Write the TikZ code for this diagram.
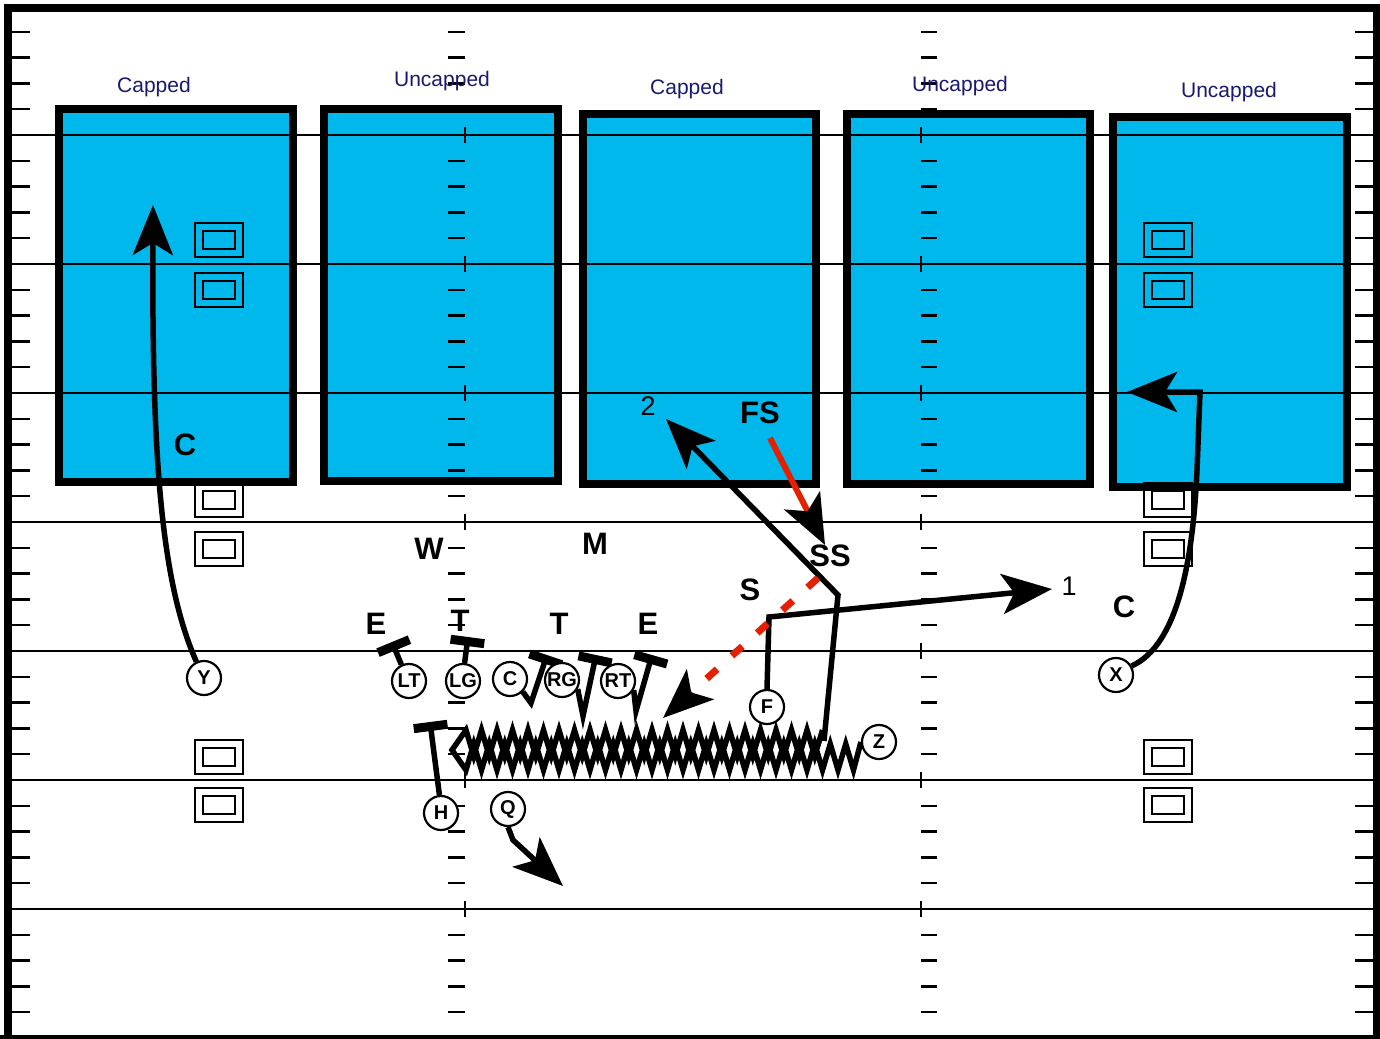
\documentclass[tikz,border=0pt]{standalone}
\usepackage{fontspec}
\setmainfont{Liberation Sans}
\usetikzlibrary{arrows.meta}
\definecolor{zoneblue}{RGB}{0,184,236}
\definecolor{capnavy}{RGB}{25,25,112}
\definecolor{rushred}{RGB}{228,32,0}
\pgfdeclarelayer{field}
\pgfdeclarelayer{routes}
\pgfsetlayers{field,routes,main}
\begin{document}
\begin{tikzpicture}[x=1pt,y=-1pt,
  zone/.style={draw=black,line width=8pt,fill=zoneblue},
  zonelabel/.style={text=capnavy,font=\fontsize{21}{21}\selectfont,anchor=base,inner sep=0pt},
  yard/.style={line width=2pt},
  hashtick/.style={line width=2.5pt},
  player/.style={circle,draw=black,line width=2.2pt,fill=white,minimum size=34pt,inner sep=0pt,font=\bfseries\fontsize{20}{20}\selectfont},
  defender/.style={font=\bfseries\fontsize{31}{31}\selectfont,inner sep=0pt},
  numlabel/.style={font=\fontsize{27}{27}\selectfont,inner sep=0pt},
  route/.style={line width=5.5pt},
  arrowend/.style={-{Stealth[length=50pt,width=40pt,inset=12pt]}},
  blackend/.style={-{Stealth[length=50pt,width=40pt,inset=12pt,color=black]}},
  blockline/.style={line width=5.5pt,-{Bar[width=34pt,line width=9pt]}},
  motion/.style={line width=5.5pt,line join=miter,miter limit=10},
  yardmarker/.pic={\draw[line width=2pt] (-24,-17) rectangle (24,17);
                   \draw[line width=2pt] (-16,-9) rectangle (16,9);},
]
\useasboundingbox (0,0) rectangle (1380,1038);

\begin{pgfonlayer}{field}
\fill[white] (0,0) rectangle (1380,1038);
% zones
\draw[zone] (59,109) rectangle (293,482);
\draw[zone] (324,109) rectangle (558,481);
\draw[zone] (583,114) rectangle (816,484);
\draw[zone] (847,114) rectangle (1090,484);
\draw[zone] (1113,117) rectangle (1347,487);
% yard markers
\foreach \yy in {240,290,500,549,757,805}{
  \pic at (219,\yy) {yardmarker};
  \pic at (1168,\yy) {yardmarker};
}
% yard lines and hash marks
\foreach \yy in {135,264,393,522,651,780,909}{
  \draw[yard] (12,\yy) -- (1373,\yy);
  \draw[hashtick] (465,\yy-8) -- (465,\yy+8);
  \draw[hashtick] (921,\yy-8) -- (921,\yy+8);
}
\foreach \k in {0,...,7}{
  \foreach \j in {1,...,4}{
    \pgfmathsetmacro\yy{6+129*\k+25.8*\j}
    \draw[hashtick] (12,\yy) -- (30,\yy);
    \draw[hashtick] (1355,\yy) -- (1373,\yy);
    \draw[hashtick] (448,\yy) -- (465,\yy);
    \draw[hashtick] (921,\yy) -- (937,\yy);
  }
}
% border
\draw[line width=8pt] (8,1040) -- (8,8) -- (1376.5,8) -- (1376.5,1040);
\draw[line width=6pt] (0,1038) -- (1380,1038);
\end{pgfonlayer}

% zone labels
\node[zonelabel] (l1) at (154,93) {Capped};
\node[zonelabel] (l2) at (442,87) {Uncapped};
\node[zonelabel] (l3) at (687,95) {Capped};
\node[zonelabel] (l4) at (960,92) {Uncapped};
\node[zonelabel] (l5) at (1229,98) {Uncapped};

% players
\node[player] (Y) at (204,678) {Y};
\node[player] (LT) at (409,681) {LT};
\node[player] (LG) at (463,681) {LG};
\node[player] (C) at (510,679) {C};
\node[player] (RG) at (562,680) {RG};
\node[player] (RT) at (618,681) {RT};
\node[player] (F) at (767,707) {F};
\node[player] (Z) at (879,742) {Z};
\node[player] (X) at (1116,675) {X};
\node[player] (H) at (441,813) {H};
\node[player] (Q) at (508,809) {Q};

% route coordinates
\coordinate (ytip) at (153,205);
\coordinate (xturn) at (1200,392);
\coordinate (xtip) at (1127,392);
\coordinate (zturn) at (452,750);
\coordinate (zstem) at (824,741);
\coordinate (zcorner) at (838,595);
\coordinate (ztip) at (666,419);
\coordinate (fcorner) at (769,617);
\coordinate (ftip) at (1052,589);
\coordinate (qcorner) at (513,840);
\coordinate (qtip) at (563,886);
\coordinate (fsstart) at (770,438);
\coordinate (fstip) at (825,545);
\coordinate (ssstart) at (818,578);
\coordinate (sstip) at (663,718);

\begin{pgfonlayer}{routes}
\draw[route,arrowend] (Y.115) .. controls (160,580) and (152,450) .. (ytip);
\draw[route,arrowend] (X.30) .. controls (1178,645) and (1193,560) .. (1197,470) -- (xturn) -- (xtip);
% zig-zag motion of Z: left along the lower row, back right along the upper row
\draw[motion] (Z.west)
  \foreach \i [evaluate=\i as \xx using {466+7.75*\i},
               evaluate=\i as \yy using {757+13*(1-2*mod(\i,2))}] in {50,49,...,0} { -- (\xx,\yy) }
  -- (zturn)
  \foreach \i [evaluate=\i as \xx using {466+7.75*\i},
               evaluate=\i as \yy using {743-13*(1-2*mod(\i,2))}] in {0,...,46} { -- (\xx,\yy) };
\draw[route,arrowend] (zstem) -- (zcorner) -- (ztip);
\draw[route,arrowend] (F.north) -- (fcorner) -- (ftip);
\draw[route,arrowend] (Q.south) -- (qcorner) -- (qtip);
\draw[rushred,line width=6pt,blackend] (fsstart) -- (fstip);
\draw[rushred,line width=7pt,dash pattern=on 14pt off 20pt,blackend] (ssstart) -- (sstip);
% blocks
\draw[blockline] (LT.115) -- (392,642);
\draw[blockline] (LG.85) -- (468,637);
\draw[blockline] (C.-45) -- (531,703) -- (547,655);
\draw[blockline] (RG.-30) -- (583,716) -- (596,655);
\draw[blockline] (RT.-30) -- (636,711) -- (652,655);
\draw[blockline] (H.95) -- (430,722);
\end{pgfonlayer}

% defenders
\node[defender] (dc1) at (185,445) {C};
\node[defender] (dw) at (429,549) {W};
\node[defender] (dm) at (595,544) {M};
\node[defender] (de1) at (376,624) {E};
\node[defender] (dt1) at (460,621) {T};
\node[defender] (dt2) at (559,624) {T};
\node[defender] (de2) at (648,624) {E};
\node[defender] (ds) at (750,590) {S};
\node[defender] (dss) at (830,556) {SS};
\node[defender] (dfs) at (760,413) {FS};
\node[defender] (dc2) at (1124,607) {C};
\node[numlabel] (n1) at (1069,586) {1};
\node[numlabel] (n2) at (648,406) {2};
\end{tikzpicture}
\end{document}
